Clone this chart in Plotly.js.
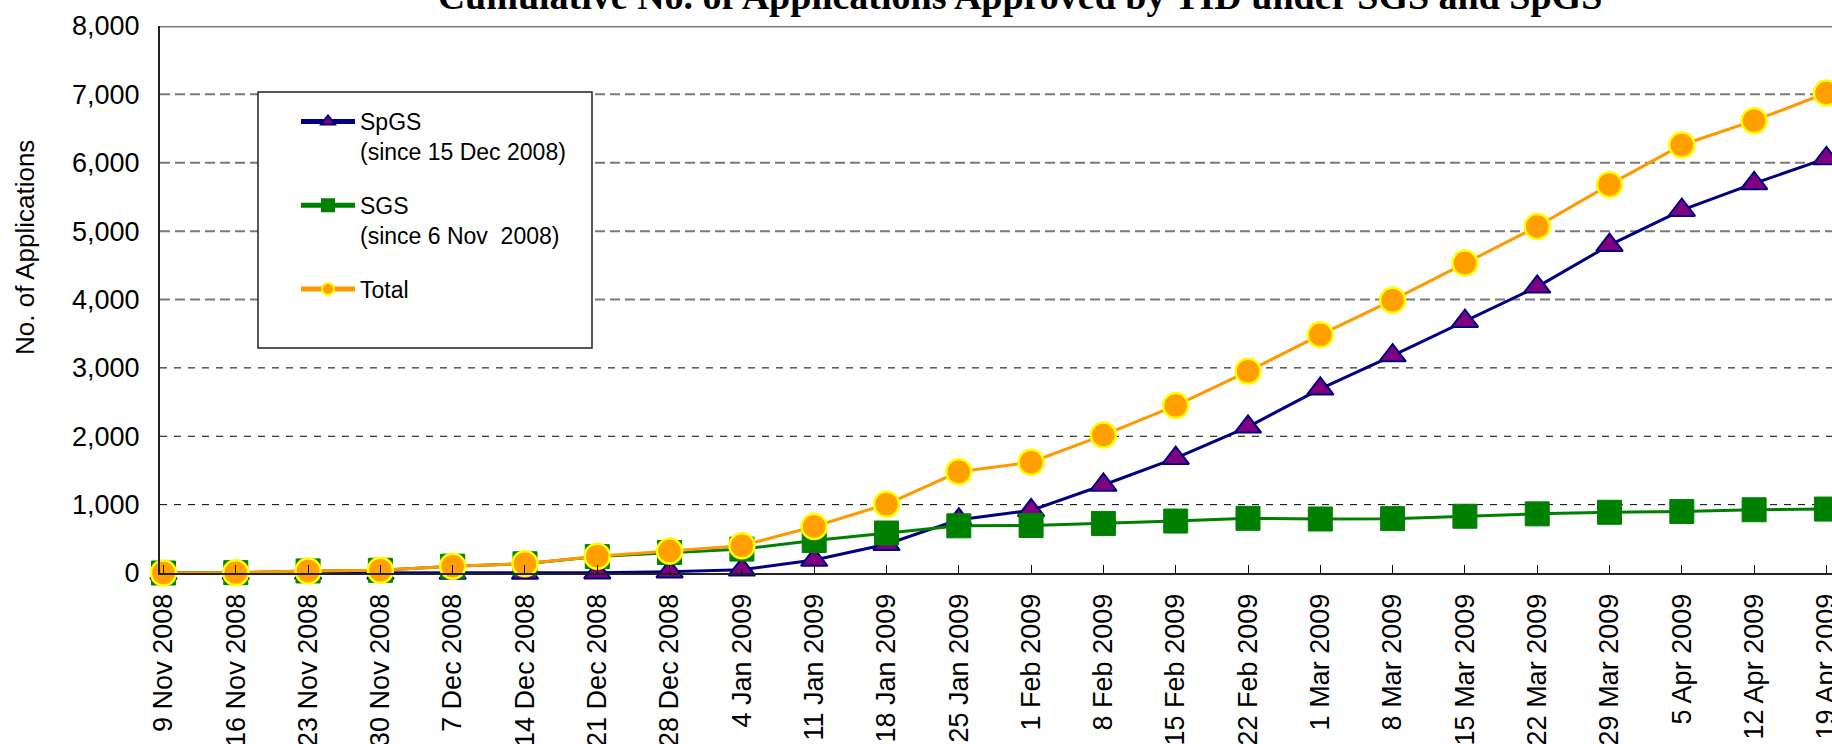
<!DOCTYPE html>
<html>
<head>
<meta charset="utf-8">
<script src="https://cdn.plot.ly/plotly-3.0.1.min.js"></script>
<style>
  html, body { margin: 0; padding: 0; background: #fff; }
  #chart { width: 1832px; height: 744px; }
</style>
</head>
<body>
<div id="chart"></div>
<script>
// ---- Data ----
const categories = [
  '9 Nov 2008', '16 Nov 2008', '23 Nov 2008', '30 Nov 2008',
  '7 Dec 2008', '14 Dec 2008', '21 Dec 2008', '28 Dec 2008',
  '4 Jan 2009', '11 Jan 2009', '18 Jan 2009', '25 Jan 2009',
  '1 Feb 2009', '8 Feb 2009', '15 Feb 2009', '22 Feb 2009',
  '1 Mar 2009', '8 Mar 2009', '15 Mar 2009', '22 Mar 2009',
  '29 Mar 2009', '5 Apr 2009', '12 Apr 2009', '19 Apr 2009'
];
const spgsValues = [0, 0, 0, 0, 0, 0, 5, 20, 48, 190, 420, 780,
                    915, 1287, 1679, 2138, 2693, 3180, 3683, 4185, 4795, 5307, 5698, 6063];
const sgsValues = [0, 5, 30, 40, 100, 135, 240, 300, 350, 475, 585, 690,
                   695, 725, 760, 800, 790, 795, 830, 865, 888, 900, 925, 935];
const totalValues = [0, 5, 30, 40, 100, 135, 246, 320, 398, 680, 1005, 1480,
                     1620, 2017, 2448, 2950, 3483, 3990, 4532, 5068, 5680, 6260, 6615, 7020];
const yTickValues = [0, 1000, 2000, 3000, 4000, 5000, 6000, 7000, 8000];
const blackGridValues = [1000, 2000, 3000];
const grayGridValues = [4000, 5000, 6000, 7000];

const seriesNames = {
  spgs: 'SpGS<br>(since 15 Dec 2008)',
  sgs: 'SGS<br>(since 6 Nov\u00a0 2008)',
  total: 'Total'
};
const titleText = '<b>Cumulative No. of Applications Approved by TID under SGS and SpGS</b>';
const yTitleText = 'No. of Applications';

const SANS = 'Liberation Sans, Arial, sans-serif';

const traces = [
  {
    x: categories, y: spgsValues, name: seriesNames.spgs, type: 'scatter', mode: 'lines+markers',
    legendgroup: 'a', cliponaxis: false,
    line: { color: '#000080', width: 3 },
    marker: { symbol: 'triangle-up', size: 23, color: '#800080', line: { color: '#000080', width: 2 } }
  },
  {
    x: categories, y: sgsValues, name: seriesNames.sgs, type: 'scatter', mode: 'lines+markers',
    legendgroup: 'b', cliponaxis: false,
    line: { color: '#008000', width: 3 },
    marker: { symbol: 'square', size: 24, color: '#008000', line: { color: '#008000', width: 1 } }
  },
  {
    x: categories, y: totalValues, name: seriesNames.total, type: 'scatter', mode: 'lines+markers',
    legendgroup: 'c', cliponaxis: false,
    line: { color: '#FF9900', width: 3 },
    marker: { symbol: 'circle', size: 25, color: '#FFA000', line: { color: '#FFFF00', width: 2.5 } }
  }
];

const gridShapes = []
  .concat(blackGridValues.map(v => ({
    type: 'line', xref: 'paper', yref: 'y', x0: 0, x1: 1, y0: v, y1: v,
    line: { color: '#000000', width: 1, dash: '7px,7px' }, layer: 'below'
  })))
  .concat(grayGridValues.map(v => ({
    type: 'line', xref: 'paper', yref: 'y', x0: 0, x1: 1, y0: v, y1: v,
    line: { color: '#7a7a7a', width: 2, dash: '10px,5px' }, layer: 'below'
  })));

const layout = {
  width: 1832, height: 744,
  margin: { l: 160, r: 0, t: 26, b: 171, pad: 0 },
  paper_bgcolor: '#ffffff', plot_bgcolor: '#ffffff',
  font: { family: SANS, color: '#000000', size: 26 },
  showlegend: true,
  title: {
    text: titleText,
    font: { family: 'Liberation Serif, Times New Roman, serif', size: 38, color: '#000000' },
    xref: 'container', yref: 'container',
    x: 1020 / 1832, xanchor: 'center',
    y: 1 - 9 / 744, yanchor: 'bottom'
  },
  xaxis: {
    type: 'category',
    range: [-0.048, 23.077],
    showgrid: false, zeroline: false,
    showline: true, linecolor: '#222222', linewidth: 2,
    ticks: 'inside', ticklen: 8, tickwidth: 1, tickcolor: '#000000',
    tickangle: -90,
    ticklabelstandoff: 8,
    tickfont: { family: SANS, size: 27, color: '#000000' },
    automargin: false, fixedrange: true
  },
  yaxis: {
    range: [0, 8000],
    tickmode: 'array', tickvals: yTickValues, tickformat: ',',
    showgrid: false, zeroline: false,
    showline: true, linecolor: '#222222', linewidth: 2,
    ticks: '', ticklabelstandoff: 13,
    tickfont: { family: SANS, size: 27, color: '#000000' },
    automargin: false, fixedrange: true
  },
  shapes: gridShapes.concat([
    { type: 'line', xref: 'paper', yref: 'y', x0: 0, x1: 1, y0: 8000, y1: 8000,
      line: { color: '#808080', width: 3 }, layer: 'above' },
    { type: 'rect', xref: 'paper', yref: 'paper',
      x0: (258 - 160) / 1672, x1: (592 - 160) / 1672,
      y0: (573 - 348) / 547, y1: (573 - 92) / 547,
      fillcolor: '#ffffff', line: { color: '#222222', width: 1.5 }, layer: 'above' }
  ]),
  legend: {
    x: (296 - 160) / 1672, xanchor: 'left',
    y: (573 - 100) / 547, yanchor: 'top',
    bgcolor: 'rgba(0,0,0,0)', borderwidth: 0,
    font: { family: SANS, size: 23, color: '#000000' },
    tracegroupgap: 21, valign: 'top', itemsizing: 'constant', itemwidth: 54,
    itemclick: false, itemdoubleclick: false
  },
  annotations: [
    { text: yTitleText, xref: 'paper', yref: 'paper',
      x: (25 - 160) / 1672, y: (573 - 248) / 547,
      xanchor: 'center', yanchor: 'middle', textangle: -90, showarrow: false,
      font: { family: SANS, size: 26, color: '#000000' } }
  ]
};

Plotly.newPlot('chart', traces, layout, { displayModeBar: false, staticPlot: true });
</script>
</body>
</html>
